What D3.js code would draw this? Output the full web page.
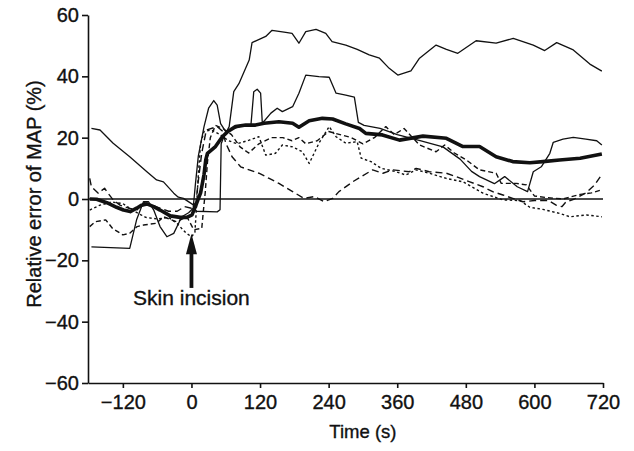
<!DOCTYPE html>
<html>
<head>
<meta charset="utf-8">
<script src="https://cdn.jsdelivr.net/npm/d3@7"></script>
<style>
  body { margin: 0; background: #fff; }
  text { font-family: "Liberation Sans", Arial, Helvetica, sans-serif; fill: #111; stroke: #111; stroke-width: 0.35px; }
</style>
</head>
<body>
<div id="vizcontainer"></div>
<script>
const
  width = 634,
  height = 451
  ;

// time (s), relative error of MAP (%)
const meanLine = [[-178,0],[-166,-0.1],[-148,-1.2],[-131,-2.7],[-119,-3.6],[-107,-4.1],[-96,-3],[-87,-2],[-78,-1.6],[-66,-2.5],[-55,-3.6],[-37,-5.5],[-20,-6],[-8,-6],[1,-5.2],[9,-1.4],[16,2],[18,4],[22,8],[25,12.7],[28,14.9],[42,17.1],[54,20.3],[63,21.9],[77,23.6],[95,24.1],[112,24.1],[127,24.7],[153,25.2],[177,24.7],[188,23.4],[206,25.5],[229,26.3],[247,26.1],[270,24.5],[294,23],[305,21.4],[334,20.9],[364,19.2],[405,20.5],[446,19.8],[475,17.1],[504,17.1],[533,13.8],[562,12.2],[592,11.8],[615,12.2],[644,12.7],[680,13.3],[718,14.7]];

const patientA = [[-175,23],[-160,22.5],[-137,18.2],[-108,13.8],[-78,8.9],[-61,6.2],[-49,5.6],[-31,1.9],[-23,0.6],[-14,0.2],[4,-2],[8,-4],[45,-4.2],[50,-3.5],[52,18],[56,20],[66,23.6],[74,35],[83,37.6],[101,45.3],[106,51],[130,53],[141,55],[165,54.3],[176,54],[188,50.8],[200,54.6],[218,55.3],[235,54],[246,51.3],[270,50.2],[290,48.8],[311,47],[329,45.9],[346,42.6],[361,40.4],[384,41.8],[399,45.9],[428,50.2],[446,48.8],[466,47.5],[498,51.6],[533,50.8],[563,52.4],[598,50.2],[618,48.4],[639,51],[668,48.6],[697,44],[718,41.7]];

const patientB = [[-175,-15.6],[-108,-16.1],[-96,-6.8],[-84,-0.9],[-75,-0.9],[-66,-3.6],[-55,-9],[-43,-12.3],[-31,-11.2],[-17,-5.8],[-5,-4.5],[3,-3],[7,5],[12,14],[22,23.6],[30,29.6],[39,32.1],[45,30.6],[51,24.6],[60,22],[75,23],[90,24],[104,24],[109,35],[115,35.8],[121,34.5],[124,24.7],[139,28],[150,29.6],[159,28.5],[177,30.1],[188,34.5],[200,40.4],[223,39.9],[241,39.7],[253,34.5],[270,33.9],[285,33.2],[292,25],[302,24],[330,23],[360,21],[400,19],[440,17],[470,13],[490,9],[504,7.3],[530,5],[548,7.3],[570,4],[588,2.4],[598,8.9],[612,10.5],[627,14.9],[633,18.5],[650,19.5],[668,20.1],[690,19.5],[709,19],[718,17.6]];

const patientC = [[-178,6.7],[-175,4],[-163,1.9],[-152,3.5],[-146,1.9],[-137,-0.3],[-125,-2],[-110,-3],[-95,-3.5],[-85,-1],[-70,-2],[-55,-3],[-40,-4],[-25,-4],[-12,-2.5],[0,-3],[8,-1],[12,6],[18,15],[26,22.5],[45,23.6],[55,22],[60,18.2],[71,13.8],[86,10.5],[101,9.5],[118,8.4],[136,6.7],[153,5.1],[177,2.4],[197,0.2],[215,0.8],[232,-0.9],[247,0.2],[258,2.4],[282,5.6],[297,7.3],[317,9.5],[335,8.4],[352,9.5],[381,8.9],[393,10],[416,8.9],[446,8.4],[463,7.3],[487,5.6],[510,4],[527,2.4],[545,1.3],[562,0.2],[580,-0.9],[600,-0.5],[625,-0.5],[638,-2],[648,-2.5],[655,-1],[670,0],[690,2],[705,4.5],[718,8]];

const patientD = [[-178,-9],[-168,-7.4],[-150,-6.8],[-138,-9.6],[-120,-11.7],[-108,-11.2],[-95,-9],[-84,-8.5],[-61,-7.9],[-49,-5.8],[-26,-7.4],[-8,-5.8],[4,-10],[18,-9.6],[21,-3.6],[24,1.9],[28,12],[33,20],[42,24],[55,23],[70,21],[85,17],[100,15],[118,18],[140,20],[160,20],[176,19],[188,20],[200,18],[220,19],[240,22],[260,21],[280,20],[300,18],[320,20],[340,23.6],[355,21],[372,23],[399,17.6],[428,15.4],[443,17.6],[460,15],[481,12.7],[504,9.5],[533,8.4],[542,5.1],[568,5.1],[586,4.6],[600,1],[620,0.5],[650,0],[680,1.5],[700,2],[718,3]];

const patientE = [[-178,-3.6],[-160,-2],[-140,-1],[-120,-1.5],[-100,-4],[-80,-6],[-60,-6.5],[-40,-6],[-25,-8],[-10,-11],[0,-12.3],[6,-11],[9,-2],[12,8],[16,18],[22,22],[35,22.5],[50,21],[65,19],[80,18],[101,19.2],[118,20.3],[130,14.3],[147,14.9],[159,17.6],[177,17],[194,15.4],[206,11.6],[223,18.2],[241,23.6],[253,20.3],[270,18.2],[290,18.7],[297,13.3],[314,12.2],[332,10],[358,8.9],[375,7.8],[393,9.5],[416,8.4],[446,6.7],[475,5.6],[510,1.9],[545,-0.3],[575,-0.5],[592,-2.7],[615,-3.4],[644,-4.7],[662,-5.8],[691,-5.2],[718,-5.8]];

const xTicks = [-120, 0, 120, 240, 360, 480, 600, 720];
const yTicks = [-60, -40, -20, 0, 20, 40, 60];

const series = [
  { data: patientA, w: 1.3, dash: null },
  { data: patientB, w: 1.3, dash: null },
  { data: patientC, w: 1.4, dash: "7,4" },
  { data: patientD, w: 1.4, dash: "5,3" },
  { data: patientE, w: 1.4, dash: "2.5,2.5" },
  { data: meanLine, w: 3.6, dash: null }
];

let xScale = d3.scaleLinear()
  .domain([-181, 720])
  .range([88, 603]);

let yScale = d3.scaleLinear()
  .domain([-60, 60])
  .range([383, 15]);

const fmt = d => d < 0 ? "\u2212" + Math.abs(d) : String(d);

let viz = d3.select('#vizcontainer')
  .append('svg')
  .attr('width', width)
  .attr('height', height);

// axes
let yAxis = viz.append('g')
  .attr('transform', 'translate(88,0)')
  .call(d3.axisLeft(yScale).tickValues(yTicks).tickFormat(fmt).tickSize(6).tickSizeOuter(0));

let xAxis = viz.append('g')
  .attr('transform', 'translate(0,383)')
  .call(d3.axisBottom(xScale).tickValues(xTicks).tickFormat(fmt).tickSize(5).tickSizeOuter(0));

[yAxis, xAxis].forEach(a => {
  a.selectAll('path, line').attr('stroke', '#111').attr('stroke-width', 1.6);
  a.selectAll('text').attr('font-size', 20).attr('fill', '#111');
});
yAxis.selectAll('text').attr('x', -9);
xAxis.selectAll('text').attr('y', 12);

// zero line
viz.append('line')
  .attr('x1', xScale(-181)).attr('x2', xScale(720))
  .attr('y1', yScale(0)).attr('y2', yScale(0))
  .attr('stroke', '#111').attr('stroke-width', 1.5);

let line = d3.line()
  .x(d => xScale(d[0]))
  .y(d => yScale(d[1]));

viz.append('g').selectAll('path')
  .data(series)
  .join('path')
  .attr('d', d => line(d.data))
  .attr('fill', 'none')
  .attr('stroke', '#111')
  .attr('stroke-width', d => d.w)
  .attr('stroke-dasharray', d => d.dash)
  .attr('stroke-linejoin', 'round');

// skin incision arrow
const ax = xScale(0);
viz.append('line')
  .attr('x1', ax).attr('x2', ax)
  .attr('y1', yScale(-15)).attr('y2', yScale(-29))
  .attr('stroke', '#111').attr('stroke-width', 3.8);
viz.append('path')
  .attr('d', `M${ax},${yScale(-11.3)} L${ax - 5.5},${yScale(-18)} L${ax + 5.5},${yScale(-18)} Z`)
  .attr('fill', '#111');

viz.append('text')
  .attr('x', ax)
  .attr('y', yScale(-34.7))
  .attr('text-anchor', 'middle')
  .attr('font-size', 21)
  .text('Skin incision');

// axis titles
viz.append('text')
  .attr('x', xScale(300))
  .attr('y', 438)
  .attr('text-anchor', 'middle')
  .attr('font-size', 18.5)
  .text('Time (s)');

viz.append('text')
  .attr('transform', 'translate(41,194) rotate(-90)')
  .attr('text-anchor', 'middle')
  .attr('font-size', 20)
  .text('Relative error of MAP (%)');
</script>
</body>
</html>
